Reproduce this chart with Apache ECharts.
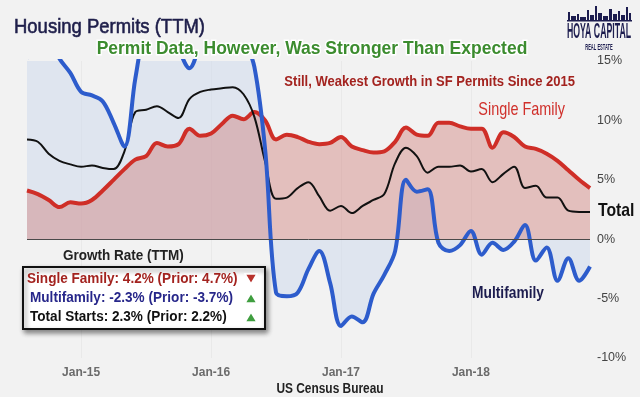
<!DOCTYPE html>
<html>
<head>
<meta charset="utf-8">
<script src="https://cdn.jsdelivr.net/npm/echarts@6/dist/echarts.min.js"></script>
<style>
    html, body { margin: 0; padding: 0; background: #f2f2f2; }
    #chart { width: 640px; height: 397px; }
</style>
</head>
<body>
<div id="chart"></div>
<script>
// Months, Aug-14 .. Dec-18
const months = [
    'Aug-14', 'Sep-14', 'Oct-14', 'Nov-14', 'Dec-14',
    'Jan-15', 'Feb-15', 'Mar-15', 'Apr-15', 'May-15', 'Jun-15', 'Jul-15', 'Aug-15', 'Sep-15', 'Oct-15', 'Nov-15', 'Dec-15',
    'Jan-16', 'Feb-16', 'Mar-16', 'Apr-16', 'May-16', 'Jun-16', 'Jul-16', 'Aug-16', 'Sep-16', 'Oct-16', 'Nov-16', 'Dec-16',
    'Jan-17', 'Feb-17', 'Mar-17', 'Apr-17', 'May-17', 'Jun-17', 'Jul-17', 'Aug-17', 'Sep-17', 'Oct-17', 'Nov-17', 'Dec-17',
    'Jan-18', 'Feb-18', 'Mar-18', 'Apr-18', 'May-18', 'Jun-18', 'Jul-18', 'Aug-18', 'Sep-18', 'Oct-18', 'Nov-18', 'Dec-18'
];

// Growth rate (TTM), %
const singleFamily = [
    4.1, 3.8, 3.3, 2.7, 3.1,
    3.0, 3.3, 4.1, 5.0, 5.9, 6.7, 7.0, 8.1, 7.8, 8.0, 9.3, 8.7,
    8.9, 9.7, 10.4, 10.1, 10.7, 10.0, 8.4, 8.8, 8.6, 8.2, 8.0, 8.1,
    8.6, 7.8, 7.5, 7.3, 7.4, 8.2, 9.4, 8.8, 8.7, 9.8, 9.8, 9.5,
    9.3, 9.3, 7.7, 9.0, 8.6, 7.8, 7.6, 7.2, 6.6, 5.8, 5.0, 4.3
];

const multifamily = [
    15.2, 17.0, 17.0, 15.2, 14.0,
    12.4, 12.1, 11.6, 9.8, 7.8, 13.5, 18.0, 19.0, 18.0, 16.0, 14.4, 16.5,
    19.0, 20.0, 19.0, 17.0, 14.5, 7.5, -4.5, -4.8, -4.5, -2.5, -1.0, -3.7,
    -7.3, -6.5, -7.0, -4.6, -3.0, -1.0, 5.0, 4.0, 4.2, -0.3, -1.0, -0.5,
    0.7, -1.3, -0.3, -0.9, -0.2, 1.2, -1.8, -0.7, -3.5, -1.6, -3.5, -2.3
];

const total = [
    8.4, 8.2, 7.2, 6.6, 6.3,
    6.1, 6.2, 6.0, 5.9, 7.4, 10.7, 10.9, 11.2, 10.7, 10.2, 11.8, 12.4,
    12.6, 12.7, 12.8, 12.2, 10.3, 6.5, 3.4, 3.5, 4.3, 4.8, 3.6, 2.4,
    2.8, 2.2, 2.8, 3.3, 3.8, 6.4, 7.7, 7.0, 5.6, 6.1, 6.1, 6.2,
    5.7, 5.9, 4.8, 5.5, 6.1, 4.3, 4.5, 3.5, 3.5, 2.4, 2.3, 2.3
];

const yTicks = { min: -10, max: 15, step: 5 };

const legendRows = [
    { text: 'Single Family: 4.2% (Prior: 4.7%)', color: '#a3231f', up: false },
    { text: 'Multifamily: -2.3% (Prior: -3.7%)', color: '#27278a', up: true },
    { text: 'Total Starts: 2.3% (Prior: 2.2%)', color: '#111111', up: true }
];

const FONT = '"Liberation Sans", Arial, Helvetica, sans-serif';
const isJan = (idx, name) => String(name).startsWith('Jan');

const chart = echarts.init(document.getElementById('chart'), null, { renderer: 'canvas' });

/**
 * Narrowed text helper (the source uses a condensed face)
 */
function label(text, x, y, font, fill, sx, extra) {
    return {
        type: 'text', x: x, y: y, scaleX: sx, z: 20,
        style: Object.assign({ text: text, font: font, fill: fill, verticalAlign: 'middle' }, extra || {})
    };
}

/**
 * Build legend box graphics
 */
function buildLegend() {
    const els = [
        label('Growth Rate (TTM)', 63, 256, 'bold 15px ' + FONT, '#222', 0.9),
        {
            type: 'rect', shape: { x: 23, y: 267, width: 242, height: 62 },
            style: {
                fill: '#ffffff', stroke: '#111', lineWidth: 2,
                shadowBlur: 5, shadowColor: 'rgba(0,0,0,0.45)', shadowOffsetX: 2, shadowOffsetY: 3
            },
            z: 10
        }
    ];
    legendRows.forEach((row, i) => {
        const cy = 279 + i * 19;
        els.push(label(row.text, i === 0 ? 27 : 30, cy, 'bold 14px ' + FONT, row.color, 0.97));
        const tx = 251;
        const pts = row.up
            ? [[tx - 6, cy + 5], [tx + 6, cy + 5], [tx, cy - 5]]
            : [[tx - 6, cy - 5], [tx + 6, cy - 5], [tx, cy + 5]];
        els.push({
            type: 'polygon', z: 21, shape: { points: pts },
            style: { fill: row.up ? '#3f9e3f' : '#b8322c', stroke: '#ffffff', lineWidth: 1.5 }
        });
    });
    return els;
}

/**
 * Logo in the top right corner
 */
function buildLogo() {
    const sky = [
        [568, 12, 2, 8], [571, 16, 5, 4], [577, 14, 2, 6], [580, 17, 6, 3], [587, 10, 2, 10],
        [590, 15, 4, 5], [595, 6, 2, 14], [598, 13, 4, 7], [603, 16, 5, 4], [609, 9, 3, 11],
        [613, 14, 4, 6], [618, 11, 2, 9], [621, 15, 4, 5], [626, 7, 2, 13], [629, 13, 2, 7]
    ];
    const els = sky.map(r => ({
        type: 'rect', shape: { x: r[0], y: r[1], width: r[2], height: r[3] },
        style: { fill: '#1d1d4f' }
    }));
    els.push({
        type: 'rect', shape: { x: 567, y: 20, width: 65, height: 1.5 }, style: { fill: '#1d1d4f' }
    });
    els.push({
        type: 'text', x: 599, y: 32, scaleX: 0.46, scaleY: 1.15,
        style: { text: 'HOYA CAPITAL', font: 'bold 19px ' + FONT, fill: '#1d1d4f', align: 'center', verticalAlign: 'middle' }
    });
    els.push({
        type: 'text', x: 599, y: 47, scaleX: 0.45, scaleY: 1.1,
        style: { text: 'REAL ESTATE', font: 'bold 9px ' + FONT, fill: '#1d1d4f', align: 'center', verticalAlign: 'middle' }
    });
    return els;
}

const option = {
    backgroundColor: '#f2f2f2',
    animation: false,
    grid: { left: 27, right: 50, top: 61, bottom: 39 },
    xAxis: {
        type: 'category',
        data: months,
        boundaryGap: false,
        axisLine: { show: false },
        axisTick: { show: false },
        axisLabel: {
            interval: isJan,
            color: '#6b6b6b',
            fontFamily: FONT,
            fontWeight: 'bold',
            fontSize: 12,
            margin: 9
        },
        splitLine: { show: true, interval: isJan, lineStyle: { color: '#e9e9e9', width: 1 } }
    },
    yAxis: {
        type: 'value',
        position: 'right',
        min: yTicks.min,
        max: yTicks.max,
        interval: yTicks.step,
        axisLine: { show: false },
        axisTick: { show: false },
        splitLine: { show: false },
        axisLabel: {
            formatter: '{value}%',
            color: '#444',
            fontFamily: FONT,
            fontSize: 12.5,
            margin: 7
        }
    },
    series: [
        {
            name: 'Multifamily fill',
            type: 'line',
            data: multifamily,
            smooth: 0.35,
            symbol: 'none',
            clip: true,
            lineStyle: { width: 0 },
            areaStyle: { color: 'rgba(205,217,236,0.75)' },
            z: 1
        },
        {
            name: 'Single Family',
            type: 'line',
            data: singleFamily,
            smooth: 0.35,
            symbol: 'none',
            lineStyle: { width: 4, color: '#cf2e27' },
            areaStyle: { color: 'rgba(202,98,94,0.5)' },
            z: 2,
            markLine: {
                silent: true,
                symbol: 'none',
                label: { show: false },
                lineStyle: { color: '#4a4a4a', width: 1, type: 'solid' },
                data: [{ yAxis: 0 }]
            }
        },
        {
            name: 'Total',
            type: 'line',
            data: total,
            smooth: 0.35,
            symbol: 'none',
            lineStyle: { width: 2, color: '#111' },
            z: 3
        },
        {
            name: 'Multifamily',
            type: 'line',
            data: multifamily,
            smooth: 0.35,
            symbol: 'none',
            clip: true,
            lineStyle: { width: 4, color: '#2d5ccc' },
            z: 4
        }
    ],
    graphic: [
        label('Housing Permits (TTM)', 14, 27, '21px ' + FONT, '#1e1e4a', 0.88,
            { stroke: '#1e1e4a', lineWidth: 0.6 }),
        label('Permit Data, However, Was Stronger Than Expected', 312, 49, 'bold 19px ' + FONT, '#3c8c2f', 0.92, {
            align: 'center', stroke: '#ffffff', lineWidth: 3,
            shadowBlur: 3, shadowColor: 'rgba(0,0,0,0.35)', shadowOffsetY: 1
        }),
        label('Still, Weakest Growth in SF Permits Since 2015', 575, 82, 'bold 14px ' + FONT, '#a3231f', 0.93,
            { align: 'right' }),
        label('Single Family', 565, 110, '19px ' + FONT, '#d0302b', 0.76, { align: 'right' }),
        label('Total', 598, 211, 'bold 19px ' + FONT, '#111', 0.83),
        label('Multifamily', 508, 293, 'bold 17px ' + FONT, '#1c1c4e', 0.81, { align: 'center' }),
        label('US Census Bureau', 330, 389, 'bold 14px ' + FONT, '#222', 0.85, { align: 'center' })
    ].concat(buildLegend(), buildLogo())
};

chart.setOption(option);
</script>
</body>
</html>
